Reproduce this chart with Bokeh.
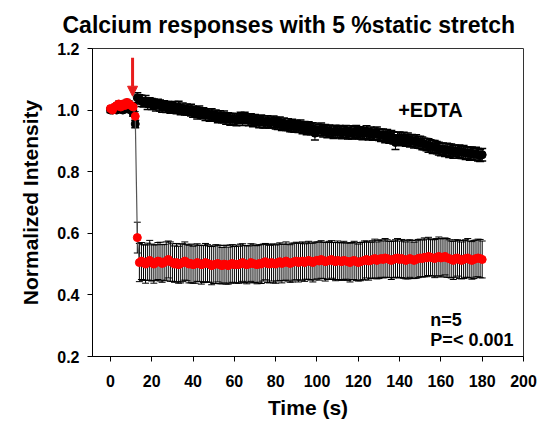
from bokeh.plotting import figure
from bokeh.models import (ColumnDataSource, Whisker, TeeHead, Label, Arrow, NormalHead,
                          Range1d, FixedTicker, NumeralTickFormatter)
from bokeh.embed import file_html
from bokeh.resources import INLINE

# ---------------- data ----------------
TIME = list(range(0, 181))  # seconds, 1 s sampling

EDTA_MEAN = [
    1.000, 1.000, 1.005, 1.000, 1.010, 1.005, 1.000, 1.010, 1.005, 1.010,
    1.000, 0.990, 0.955, 1.040, 1.035, 1.030, 1.025, 1.030, 1.020, 1.025,
    1.020, 1.020, 1.015, 1.020, 1.015, 1.010, 1.015, 1.010, 1.012, 1.008,
    1.010, 1.010, 1.005, 1.010, 1.000, 1.005, 1.000, 1.002, 0.998, 1.000,
    0.995, 0.995, 0.990, 0.995, 0.988, 0.990, 0.985, 0.988, 0.982, 0.985,
    0.980, 0.982, 0.978, 0.980, 0.975, 0.978, 0.972, 0.975, 0.970, 0.972,
    0.970, 0.968, 0.972, 0.975, 0.970, 0.975, 0.972, 0.968, 0.970, 0.965,
    0.968, 0.965, 0.962, 0.966, 0.962, 0.960, 0.963, 0.958, 0.960, 0.962,
    0.958, 0.955, 0.958, 0.952, 0.955, 0.950, 0.953, 0.948, 0.950, 0.946,
    0.948, 0.945, 0.948, 0.942, 0.945, 0.940, 0.943, 0.938, 0.940, 0.925,
    0.936, 0.935, 0.938, 0.932, 0.935, 0.930, 0.933, 0.930, 0.928, 0.932,
    0.928, 0.930, 0.926, 0.928, 0.930, 0.925, 0.928, 0.924, 0.927, 0.930,
    0.925, 0.926, 0.922, 0.925, 0.928, 0.922, 0.925, 0.920, 0.923, 0.925,
    0.920, 0.918, 0.920, 0.915, 0.918, 0.912, 0.915, 0.910, 0.895, 0.908,
    0.910, 0.905, 0.908, 0.902, 0.905, 0.900, 0.902, 0.898, 0.900, 0.895,
    0.895, 0.892, 0.890, 0.888, 0.885, 0.884, 0.880, 0.882, 0.878, 0.875,
    0.872, 0.874, 0.870, 0.872, 0.868, 0.870, 0.865, 0.868, 0.864, 0.866,
    0.862, 0.864, 0.860, 0.862, 0.858, 0.860, 0.856, 0.858, 0.855, 0.852,
    0.855,
]
EDTA_ERR = [
    0.008, 0.008, 0.009, 0.008, 0.010, 0.009, 0.008, 0.010, 0.009, 0.010,
    0.009, 0.010, 0.012, 0.016, 0.015, 0.018, 0.015, 0.017, 0.018, 0.015,
    0.018, 0.016, 0.018, 0.015, 0.018, 0.017, 0.015, 0.018, 0.016, 0.018,
    0.015, 0.018, 0.017, 0.019, 0.015, 0.018, 0.016, 0.018, 0.015, 0.019,
    0.018, 0.016, 0.019, 0.018, 0.015, 0.018, 0.019, 0.016, 0.018, 0.019,
    0.016, 0.018, 0.019, 0.018, 0.016, 0.019, 0.018, 0.016, 0.019, 0.018,
    0.018, 0.019, 0.016, 0.018, 0.020, 0.018, 0.016, 0.019, 0.018, 0.019,
    0.018, 0.016, 0.019, 0.018, 0.020, 0.018, 0.019, 0.016, 0.018, 0.019,
    0.019, 0.018, 0.020, 0.018, 0.019, 0.016, 0.019, 0.018, 0.020, 0.018,
    0.019, 0.018, 0.020, 0.019, 0.018, 0.020, 0.019, 0.018, 0.019, 0.022,
    0.019, 0.018, 0.020, 0.019, 0.018, 0.020, 0.019, 0.018, 0.020, 0.019,
    0.018, 0.020, 0.019, 0.018, 0.020, 0.019, 0.021, 0.018, 0.019, 0.020,
    0.019, 0.020, 0.018, 0.019, 0.021, 0.019, 0.020, 0.018, 0.019, 0.020,
    0.019, 0.020, 0.019, 0.021, 0.019, 0.020, 0.019, 0.020, 0.023, 0.020,
    0.019, 0.021, 0.020, 0.019, 0.021, 0.020, 0.019, 0.021, 0.020, 0.019,
    0.020, 0.021, 0.019, 0.020, 0.022, 0.020, 0.021, 0.019, 0.020, 0.021,
    0.020, 0.019, 0.021, 0.020, 0.022, 0.020, 0.021, 0.019, 0.020, 0.021,
    0.019, 0.021, 0.020, 0.019, 0.021, 0.020, 0.019, 0.021, 0.020, 0.019,
    0.020,
]

CTRL_MEAN = [
    1.005, 1.000, 1.010, 1.015, 1.020, 1.010, 1.020, 1.015, 1.025, 1.020,
    1.015, 1.010, 0.980, 0.586, 0.505, 0.510, 0.505, 0.500, 0.508, 0.512,
    0.505, 0.500, 0.505, 0.510, 0.508, 0.502, 0.505, 0.510, 0.515, 0.508,
    0.505, 0.500, 0.505, 0.498, 0.502, 0.505, 0.510, 0.505, 0.500, 0.502,
    0.498, 0.500, 0.505, 0.502, 0.498, 0.500, 0.505, 0.502, 0.500, 0.495,
    0.498, 0.500, 0.502, 0.498, 0.495, 0.500, 0.498, 0.495, 0.500, 0.502,
    0.498, 0.500, 0.498, 0.502, 0.505, 0.500, 0.498, 0.500, 0.505, 0.502,
    0.500, 0.498, 0.502, 0.500, 0.505, 0.508, 0.502, 0.500, 0.505, 0.502,
    0.500, 0.505, 0.508, 0.502, 0.505, 0.510, 0.505, 0.502, 0.505, 0.508,
    0.510, 0.505, 0.508, 0.510, 0.505, 0.510, 0.512, 0.508, 0.505, 0.510,
    0.512, 0.510, 0.515, 0.512, 0.508, 0.510, 0.512, 0.515, 0.510, 0.508,
    0.512, 0.510, 0.508, 0.512, 0.510, 0.508, 0.505, 0.510, 0.512, 0.508,
    0.505, 0.508, 0.510, 0.512, 0.515, 0.510, 0.512, 0.515, 0.518, 0.512,
    0.515, 0.518, 0.515, 0.520, 0.518, 0.515, 0.512, 0.515, 0.518, 0.520,
    0.515, 0.518, 0.515, 0.512, 0.515, 0.518, 0.515, 0.512, 0.515, 0.518,
    0.520, 0.518, 0.522, 0.520, 0.525, 0.522, 0.520, 0.518, 0.522, 0.525,
    0.520, 0.522, 0.525, 0.520, 0.518, 0.515, 0.512, 0.518, 0.520, 0.515,
    0.512, 0.515, 0.518, 0.520, 0.515, 0.512, 0.515, 0.518, 0.520, 0.518,
    0.515,
]
CTRL_ERR = [
    0.008, 0.008, 0.009, 0.008, 0.010, 0.009, 0.010, 0.009, 0.010, 0.011,
    0.010, 0.012, 0.015, 0.050, 0.062, 0.060, 0.058, 0.062, 0.060, 0.065,
    0.060, 0.062, 0.058, 0.060, 0.063, 0.061, 0.059, 0.062, 0.060, 0.064,
    0.061, 0.059, 0.062, 0.060, 0.063, 0.061, 0.062, 0.059, 0.061, 0.063,
    0.060, 0.062, 0.061, 0.059, 0.063, 0.060, 0.062, 0.061, 0.059, 0.062,
    0.061, 0.063, 0.060, 0.062, 0.059, 0.061, 0.063, 0.060, 0.062, 0.061,
    0.059, 0.062, 0.060, 0.063, 0.061, 0.060, 0.062, 0.059, 0.061, 0.063,
    0.060, 0.062, 0.061, 0.063, 0.060, 0.059, 0.062, 0.061, 0.060, 0.063,
    0.062, 0.060, 0.061, 0.063, 0.059, 0.062, 0.060, 0.061, 0.063, 0.060,
    0.061, 0.063, 0.060, 0.062, 0.061, 0.059, 0.062, 0.060, 0.063, 0.061,
    0.060, 0.062, 0.061, 0.059, 0.063, 0.060, 0.062, 0.061, 0.060, 0.062,
    0.063, 0.060, 0.061, 0.062, 0.059, 0.061, 0.063, 0.060, 0.062, 0.061,
    0.060, 0.062, 0.061, 0.063, 0.060, 0.062, 0.059, 0.061, 0.063, 0.060,
    0.062, 0.061, 0.060, 0.063, 0.061, 0.059, 0.062, 0.060, 0.061, 0.063,
    0.060, 0.062, 0.061, 0.060, 0.063, 0.061, 0.062, 0.059, 0.061, 0.062,
    0.061, 0.060, 0.063, 0.061, 0.062, 0.060, 0.059, 0.062, 0.061, 0.063,
    0.062, 0.061, 0.060, 0.063, 0.061, 0.060, 0.062, 0.061, 0.059, 0.062,
    0.060, 0.062, 0.061, 0.063, 0.060, 0.061, 0.062, 0.060, 0.061, 0.062,
    0.060,
]

X_TICKS = [0, 20, 40, 60, 80, 100, 120, 140, 160, 180, 200]
Y_TICKS = [0.2, 0.4, 0.6, 0.8, 1.0, 1.2]

TITLE = "Calcium responses with 5 %static stretch"
X_LABEL = "Time (s)"
Y_LABEL = "Normalized Intensity"
STRETCH_TIME = 10.7
FONT = "Liberation Sans"

# ---------------- figure ----------------
p = figure(width=549, height=428, output_backend="svg", toolbar_location=None,
           x_range=Range1d(-8.7, 200), y_range=Range1d(0.2, 1.2),
           min_border_left=92, min_border_right=26, min_border_top=48,
           min_border_bottom=72)
p.background_fill_color = "white"
p.border_fill_color = "white"
p.outline_line_color = "#333333"
p.outline_line_width = 1
p.xgrid.visible = False
p.ygrid.visible = False

p.title.text = TITLE
p.title.text_font = FONT
p.title.text_font_style = "bold"
p.title.text_font_size = "23px"
p.title.text_color = "black"
p.title.vertical_align = "top"
p.title.align = "left"
p.title.offset = -30
p.title.standoff = 18

for ax in (p.xaxis[0], p.yaxis[0]):
    ax.axis_line_color = "black"
    ax.major_tick_line_color = "black"
    ax.minor_tick_line_color = None
    ax.major_tick_out = 5
    ax.major_tick_in = 0
    ax.major_label_text_font = FONT
    ax.major_label_text_font_style = "bold"
    ax.major_label_text_font_size = "16px"
    ax.major_label_text_color = "black"
    ax.axis_label_text_font = FONT
    ax.axis_label_text_font_style = "bold"
    ax.axis_label_text_font_size = "21px"
    ax.axis_label_text_color = "black"

p.xaxis.ticker = FixedTicker(ticks=X_TICKS)
p.yaxis.ticker = FixedTicker(ticks=Y_TICKS)
p.yaxis.formatter = NumeralTickFormatter(format="0.0")
p.xaxis.axis_label = X_LABEL
p.yaxis.axis_label = Y_LABEL
p.xaxis.major_label_standoff = 13
p.yaxis.major_label_standoff = 8
p.xaxis.axis_label_standoff = 6
p.yaxis.axis_label_standoff = 12

# ---------------- series ----------------
src_e = ColumnDataSource(dict(
    t=TIME, y=EDTA_MEAN,
    lo=[m - e for m, e in zip(EDTA_MEAN, EDTA_ERR)],
    hi=[m + e for m, e in zip(EDTA_MEAN, EDTA_ERR)]))
src_c = ColumnDataSource(dict(
    t=TIME, y=CTRL_MEAN,
    lo=[m - e for m, e in zip(CTRL_MEAN, CTRL_ERR)],
    hi=[m + e for m, e in zip(CTRL_MEAN, CTRL_ERR)]))

# +EDTA (black)
p.line("t", "y", source=src_e, line_color="black", line_width=1)
p.add_layout(Whisker(source=src_e, base="t", lower="lo", upper="hi",
                     dimension="height", line_color="black", line_width=1,
                     upper_head=TeeHead(size=8, line_color="black", line_width=1.5),
                     lower_head=TeeHead(size=8, line_color="black", line_width=1.5)))
p.scatter("t", "y", source=src_e, marker="circle", size=8,
          fill_color="black", line_color="black")

# control (red)
p.add_layout(Whisker(source=src_c, base="t", lower="lo", upper="hi",
                     dimension="height", line_color="black", line_width=1,
                     upper_head=TeeHead(size=7, line_color="black", line_width=1),
                     lower_head=TeeHead(size=7, line_color="black", line_width=1)))
p.line("t", "y", source=src_c, line_color="#555555", line_width=1.2)
p.scatter("t", "y", source=src_c, marker="circle", size=8,
          fill_color="#ff0000", line_color="#ff0000")

# stretch arrow
p.add_layout(Arrow(x_start=STRETCH_TIME, y_start=1.17, x_end=STRETCH_TIME, y_end=1.045,
                   line_color="#e81c1c", line_width=3,
                   end=NormalHead(size=10, fill_color="#e81c1c", line_color="#e81c1c")))

# annotations
def add_text(txt, x, y, size):
    p.add_layout(Label(x=x, y=y, text=txt, text_font=FONT, text_font_style="bold",
                       text_font_size=size, text_color="black",
                       text_baseline="middle", text_align="left"))

add_text("+EDTA", 139.3, 1.0, "20px")
add_text("n=5", 154.9, 0.32, "18px")
add_text("P=< 0.001", 154.9, 0.252, "18px")

open("out.html", "w").write(file_html(p, INLINE))
